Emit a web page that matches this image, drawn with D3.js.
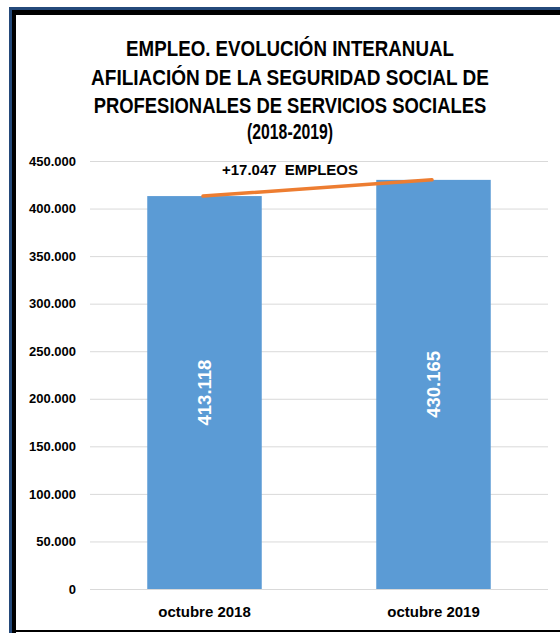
<!DOCTYPE html>
<html>
<head>
<meta charset="utf-8">
<script src="https://cdn.jsdelivr.net/npm/d3@7"></script>
<style>
  html, body { margin: 0; padding: 0; background: #ffffff; }
  svg { display: block; }
  text { font-family: "Liberation Sans", Arial, sans-serif; font-weight: bold; }
</style>
</head>
<body>
<script>
// ---- data ----
const categories = ["octubre 2018", "octubre 2019"];
const values = [413118, 430165];
const yTicks = [0, 50000, 100000, 150000, 200000, 250000, 300000, 350000, 400000, 450000];
const titleLines = [
  "EMPLEO. EVOLUCIÓN INTERANUAL",
  "AFILIACIÓN DE LA SEGURIDAD SOCIAL DE",
  "PROFESIONALES DE SERVICIOS SOCIALES",
  "(2018-2019)"
];
const annotationLabel = "+17.047  EMPLEOS";

// ---- layout ----
const W = 560, H = 633;
const plot = { left: 90, right: 548, top: 161, bottom: 589 };
const titleBaselines = [56, 84.5, 112.5, 139];
const titleWidths = [328, 398, 393, 86];

const locale = d3.formatLocale({ decimal: ",", thousands: ".", grouping: [3], currency: ["", "€"] });
const fmt = locale.format(",d");

const svg = d3.select("body").append("svg").attr("width", W).attr("height", H);

// frame
svg.append("rect").attr("x", 9).attr("y", 7).attr("width", W - 9).attr("height", 3).attr("fill", "#24497A");
svg.append("rect").attr("x", 9).attr("y", 7).attr("width", 3).attr("height", H - 7).attr("fill", "#24497A");
svg.append("rect").attr("x", 12).attr("y", 10).attr("width", W - 12).attr("height", 5).attr("fill", "#000");
svg.append("rect").attr("x", 12).attr("y", 10).attr("width", 4).attr("height", H - 10).attr("fill", "#000");
svg.append("rect").attr("x", 16).attr("y", 630).attr("width", W - 16).attr("height", 2).attr("fill", "#000");

// helper: horizontally condense a centred text to a target width
function condense(sel, cxPos, yPos, target) {
  sel.each(function (d, i) {
    const el = d3.select(this);
    const w = this.getComputedTextLength();
    const tw = typeof target === "function" ? target(d, i) : target;
    const yy = typeof yPos === "function" ? yPos(d, i) : yPos;
    const s = Math.min(1, tw / w);
    el.attr("transform", `translate(${cxPos},${yy}) scale(${s},1)`);
  });
}

// title
const cx = 290;
const tt = svg.append("g").selectAll("text").data(titleLines).join("text")
  .attr("text-anchor", "middle")
  .attr("font-size", 22)
  .attr("fill", "#000")
  .text(d => d);
condense(tt, cx, (d, i) => titleBaselines[i], (d, i) => titleWidths[i]);

// scales
const x = d3.scaleBand().domain(categories).range([plot.left, plot.right])
  .paddingInner(0.5).paddingOuter(0.25);
const y = d3.scaleLinear().domain([0, 450000]).range([plot.bottom, plot.top]);

// gridlines + y labels
const yAxis = d3.axisLeft(y).tickValues(yTicks).tickFormat(fmt)
  .tickSize(-(plot.right - plot.left)).tickPadding(14);
const gy = svg.append("g").attr("transform", `translate(${plot.left},0)`).call(yAxis);
gy.select(".domain").remove();
gy.selectAll(".tick line").attr("stroke", "#D9D9D9").attr("stroke-width", 1);
gy.selectAll(".tick text").attr("font-size", 13).attr("fill", "#000")
  .attr("font-family", "'Liberation Sans', Arial, sans-serif").attr("font-weight", "bold");

// bars
svg.append("g").selectAll("rect").data(values).join("rect")
  .attr("x", (d, i) => x(categories[i]))
  .attr("y", d => y(d))
  .attr("width", x.bandwidth())
  .attr("height", d => y(0) - y(d))
  .attr("fill", "#5B9BD5");

// value labels (rotated)
svg.append("g").selectAll("text").data(values).join("text")
  .attr("transform", (d, i) => {
    const bx = x(categories[i]) + x.bandwidth() / 2;
    const by = (y(d) + y(0)) / 2;
    return `translate(${bx},${by}) rotate(-90)`;
  })
  .attr("text-anchor", "middle")
  .attr("dy", "0.36em")
  .attr("font-size", 18.5)
  .attr("fill", "#fff")
  .text(d => fmt(d));

// x axis labels
const xAxis = d3.axisBottom(x).tickSize(0).tickPadding(17);
const gx = svg.append("g").attr("transform", `translate(0,${plot.bottom})`).call(xAxis);
gx.select(".domain").remove();
gx.selectAll(".tick text").attr("font-size", 15).attr("fill", "#000")
  .attr("font-family", "'Liberation Sans', Arial, sans-serif").attr("font-weight", "bold");

// trend line between bar tops
const line = d3.line()
  .x((d, i) => x(categories[i]) + x.bandwidth() / 2 - 1.5)
  .y(d => y(d));
svg.append("path").datum(values)
  .attr("d", line)
  .attr("fill", "none")
  .attr("stroke", "#ED7D31")
  .attr("stroke-width", 3.5)
  .attr("stroke-linecap", "round");

// annotation
const ann = svg.append("text")
  .attr("text-anchor", "middle")
  .attr("font-size", 15.5)
  .attr("fill", "#000")
  .style("white-space", "pre")
  .text(annotationLabel);
condense(ann, cx, 175, 136);
</script>
</body>
</html>
